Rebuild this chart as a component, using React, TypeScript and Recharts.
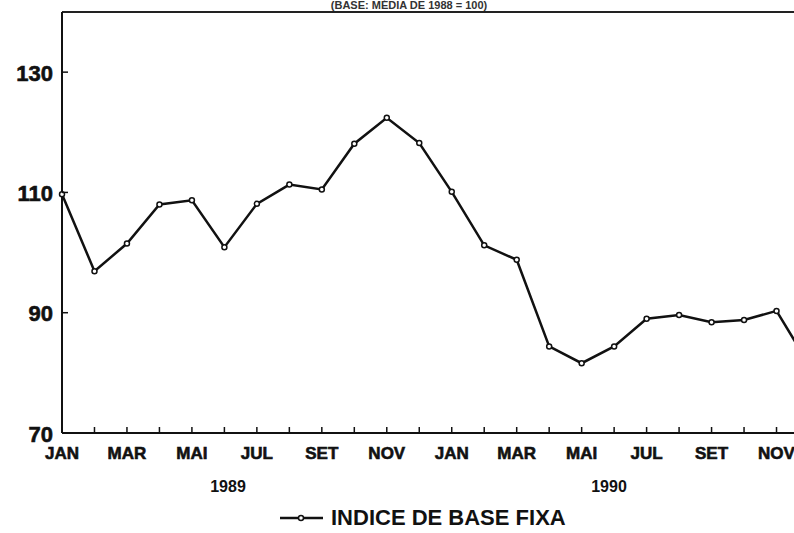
import { LineChart, Line, XAxis, YAxis, ReferenceLine } from 'recharts'

const months = ['JAN', 'FEV', 'MAR', 'ABR', 'MAI', 'JUN', 'JUL', 'AGO', 'SET', 'OUT', 'NOV', 'DEZ']
const years = ['1989', '1990']
const indice1989 = [109.7, 96.9, 101.5, 108.0, 108.7, 100.9, 108.1, 111.3, 110.5, 118.1, 122.4, 118.2]
const indice1990 = [110.1, 101.2, 98.8, 84.4, 81.6, 84.4, 89.0, 89.6, 88.4, 88.8, 90.3, 81.4]
const yTicks = [70, 90, 110, 130]

const data = [
  ...months.map((m, i) => ({ period: `${m}/${years[0]}`, value: indice1989[i] })),
  ...months.map((m, i) => ({ period: `${m}/${years[1]}`, value: indice1990[i] })),
]

const font = "'Liberation Sans', Arial, sans-serif"

function MonthTick({ x, y, payload, index }: any) {
  const month = String(payload.value).split('/')[0]
  return (
    <g>
      <line x1={x} y1={y} x2={x} y2={y - 6} stroke="#111" strokeWidth={1.5} />
      {index % 2 === 0 && (
        <text x={x} y={y + 20} textAnchor="middle" dominantBaseline="central"
          fontFamily={font} fontWeight={700} fontSize={17} fill="#111"
          stroke="#111" strokeWidth={0.6}>
          {month}
        </text>
      )}
    </g>
  )
}

function ValueTick({ x, y, payload }: any) {
  return (
    <g>
      <line x1={x} y1={y} x2={x + 6} y2={y} stroke="#111" strokeWidth={1.5} />
      <text x={x - 9} y={y + 1} textAnchor="end" dominantBaseline="central"
        fontFamily={font} fontWeight={700} fontSize={22} fill="#111"
        stroke="#111" strokeWidth={0.6}>
        {payload.value}
      </text>
    </g>
  )
}

export default function App() {
  return (
    <div style={{ position: 'fixed', left: 0, top: 0, width: 794, height: 533, overflow: 'hidden', background: '#fff', fontFamily: font }}>
      <div style={{ position: 'absolute', left: 0, width: 818, top: -1, lineHeight: '12px', textAlign: 'center', fontSize: 11, fontWeight: 700, color: '#333' }}>
        (BASE: MÉDIA DE 1988 = 100)
      </div>
      <LineChart width={809} height={463} data={data} margin={{ top: 12, right: 0, bottom: 0, left: 0 }}>
        <XAxis dataKey="period" interval={0} height={30} tickSize={0} tickMargin={0}
          tick={<MonthTick />} tickLine={false} axisLine={{ stroke: '#111', strokeWidth: 2 }} />
        <YAxis domain={[70, 140]} ticks={yTicks} width={62} tickSize={0} tickMargin={0}
          tick={<ValueTick />} tickLine={false} axisLine={{ stroke: '#111', strokeWidth: 2 }} />
        <ReferenceLine y={140} stroke="#222" strokeWidth={2} />
        <Line type="linear" dataKey="value" stroke="#111" strokeWidth={2.5} isAnimationActive={false}
          dot={{ r: 2.5, fill: '#fff', stroke: '#111', strokeWidth: 1.5 }} />
      </LineChart>
      <div style={{ position: 'absolute', left: 208, top: 478, width: 40, textAlign: 'center', fontSize: 16, fontWeight: 700, color: '#111' }}>
        {years[0]}
      </div>
      <div style={{ position: 'absolute', left: 589, top: 478, width: 40, textAlign: 'center', fontSize: 16, fontWeight: 700, color: '#111' }}>
        {years[1]}
      </div>
      <div style={{ position: 'absolute', left: 279, top: 503, display: 'flex', alignItems: 'center', color: '#111' }}>
        <svg width={46} height={30}>
          <line x1={1} y1={15} x2={44} y2={15} stroke="#111" strokeWidth={2.5} />
          <circle cx={22} cy={15} r={2.5} fill="#fff" stroke="#111" strokeWidth={1.5} />
        </svg>
        <span style={{ marginLeft: 6, fontSize: 22, fontWeight: 700 }}>INDICE DE BASE FIXA</span>
      </div>
    </div>
  )
}
